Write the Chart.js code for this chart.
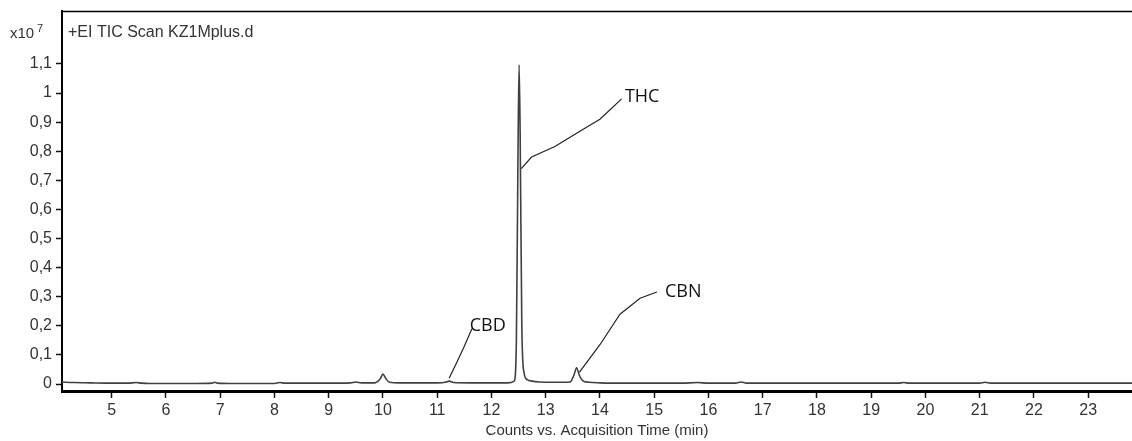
<!DOCTYPE html>
<html>
<head>
<meta charset="utf-8">
<script src="https://cdn.jsdelivr.net/npm/chart.js@4/dist/chart.umd.min.js"></script>
<style>
  html, body { margin: 0; padding: 0; background: #fff; }
  canvas { display: block; }
</style>
</head>
<body>
<canvas id="tic" width="1132" height="441"></canvas>
<script>
// acquisition time (min) and counts (x10^7)
const times = [4.08, 4.3, 4.6, 5.0, 5.3, 5.45, 5.55, 5.7, 6.0, 6.5, 6.85, 6.9, 6.95, 7.2, 7.6, 8.0, 8.1, 8.2,
  8.5, 9.0, 9.4, 9.5, 9.6, 9.85, 9.95, 10.0, 10.05, 10.12, 10.3, 10.6, 11.0, 11.15, 11.22, 11.3, 11.6,
  12.0, 12.3, 12.42, 12.46, 12.49, 12.51, 12.53, 12.56, 12.6, 12.66, 12.75, 12.9, 13.1, 13.3, 13.45,
  13.52, 13.57, 13.62, 13.68, 13.8, 14.0, 14.5, 15.0, 15.5, 15.8, 16.0, 16.5, 16.6, 16.7, 17.0, 17.5,
  18.0, 18.5, 19.0, 19.5, 19.6, 19.7, 20.0, 20.5, 21.0, 21.1, 21.2, 21.5, 22.0, 22.5, 23.0, 23.5, 23.82];
const counts = [0.007, 0.005, 0.004, 0.003, 0.003, 0.005, 0.003, 0.002, 0.002, 0.002, 0.003, 0.006, 0.003, 0.002, 0.002, 0.002, 0.005, 0.003,
  0.003, 0.003, 0.004, 0.007, 0.004, 0.004, 0.018, 0.034, 0.02, 0.006, 0.004, 0.004, 0.004, 0.006, 0.01, 0.005, 0.004,
  0.004, 0.004, 0.01, 0.15, 0.8, 1.097, 0.85, 0.2, 0.04, 0.015, 0.01, 0.007, 0.006, 0.006, 0.007,
  0.03, 0.056, 0.03, 0.012, 0.006, 0.004, 0.003, 0.003, 0.003, 0.005, 0.003, 0.003, 0.007, 0.003, 0.003, 0.003,
  0.003, 0.003, 0.003, 0.003, 0.005, 0.003, 0.003, 0.003, 0.003, 0.006, 0.003, 0.003, 0.003, 0.003, 0.003, 0.003, 0.003];

const xTicks = [5, 6, 7, 8, 9, 10, 11, 12, 13, 14, 15, 16, 17, 18, 19, 20, 21, 22, 23];
const yTicks = [0, 0.1, 0.2, 0.3, 0.4, 0.5, 0.6, 0.7, 0.8, 0.9, 1, 1.1];

// peak names, where the name sits and the hand-drawn pointer to the peak (data coords)
const peakNames = ['CBD', 'THC', 'CBN'];
const nameAt = [[11.6, 0.2], [14.46, 0.985], [15.2, 0.316]];
const pointers = [
  [[11.22, 0.02], [11.35, 0.07], [11.5, 0.13], [11.64, 0.19]],
  [[12.55, 0.74], [12.74, 0.78], [13.17, 0.816], [13.73, 0.88], [14.0, 0.91], [14.4, 0.98]],
  [[13.62, 0.04], [14.0, 0.135], [14.37, 0.24], [14.74, 0.295], [15.05, 0.316]]
];

const FONT = '"Liberation Sans", Arial, sans-serif';

const overlay = {
  id: 'overlay',
  afterDraw(chart) {
    const { ctx, chartArea: a, scales: { x, y } } = chart;
    ctx.save();
    // frame top
    ctx.strokeStyle = '#000';
    ctx.lineWidth = 1.5;
    ctx.beginPath();
    ctx.moveTo(a.left, a.top + 0.5);
    ctx.lineTo(a.right, a.top + 0.5);
    ctx.stroke();

    ctx.fillStyle = '#333';
    ctx.textBaseline = 'middle';
    ctx.textAlign = 'left';
    ctx.font = '15px ' + FONT;
    ctx.fillText('x10', 10, 34);
    ctx.font = '11px ' + FONT;
    ctx.fillText('7', 37, 29);
    ctx.font = '16px ' + FONT;
    ctx.fillText('+EI TIC Scan KZ1Mplus.d', 68, 33);

    ctx.textAlign = 'center';
    ctx.font = '15px ' + FONT;
    ctx.fillText('Counts vs. Acquisition Time (min)', (a.left + a.right) / 2, 431);

    // peak labels
    ctx.strokeStyle = '#222';
    ctx.lineWidth = 1.2;
    pointers.forEach(pts => {
      ctx.beginPath();
      pts.forEach((p, i) => {
        const px = x.getPixelForValue(p[0]), py = y.getPixelForValue(p[1]);
        if (i === 0) ctx.moveTo(px, py); else ctx.lineTo(px, py);
      });
      ctx.stroke();
    });
    ctx.fillStyle = '#111';
    ctx.textAlign = 'left';
    ctx.font = '18px "Open Sans", "Noto Sans", sans-serif';
    peakNames.forEach((n, i) => {
      ctx.fillText(n, x.getPixelForValue(nameAt[i][0]), y.getPixelForValue(nameAt[i][1]));
    });
    ctx.restore();
  }
};

new Chart(document.getElementById('tic').getContext('2d'), {
  type: 'line',
  data: {
    datasets: [{
      data: times.map((t, i) => ({ x: t, y: counts[i] })),
      borderColor: '#404040',
      borderWidth: 1.6,
      pointRadius: 0,
      cubicInterpolationMode: 'monotone',
      fill: false
    }]
  },
  options: {
    responsive: false,
    animation: false,
    layout: { padding: { top: 11, left: 0, right: 0, bottom: 0 } },
    plugins: { legend: { display: false }, tooltip: { enabled: false } },
    scales: {
      x: {
        type: 'linear',
        min: 4.084,
        max: 23.808,
        afterBuildTicks: s => { s.ticks = xTicks.map(v => ({ value: v })); },
        afterFit: s => { s.height = 50; s.paddingLeft = 0; s.paddingRight = 0; },
        grid: { drawOnChartArea: false, drawTicks: true, tickLength: 7, tickColor: '#111', tickWidth: 1.5 },
        border: { display: true, color: '#000', width: 3 },
        ticks: { color: '#333', font: { family: FONT, size: 16 }, padding: 3, maxRotation: 0, autoSkip: false }
      },
      y: {
        min: -0.024,
        max: 1.2818,
        afterBuildTicks: s => { s.ticks = yTicks.map(v => ({ value: v })); },
        afterFit: s => { s.width = 62; s.paddingTop = 0; s.paddingBottom = 0; },
        grid: { drawOnChartArea: false, drawTicks: true, tickLength: 6, tickColor: '#111', tickWidth: 1.5 },
        border: { display: true, color: '#000', width: 2 },
        ticks: {
          color: '#333', font: { family: FONT, size: 16 }, padding: 4, autoSkip: false,
          callback: v => String(v).replace('.', ',')
        }
      }
    }
  },
  plugins: [overlay]
});
</script>
</body>
</html>
